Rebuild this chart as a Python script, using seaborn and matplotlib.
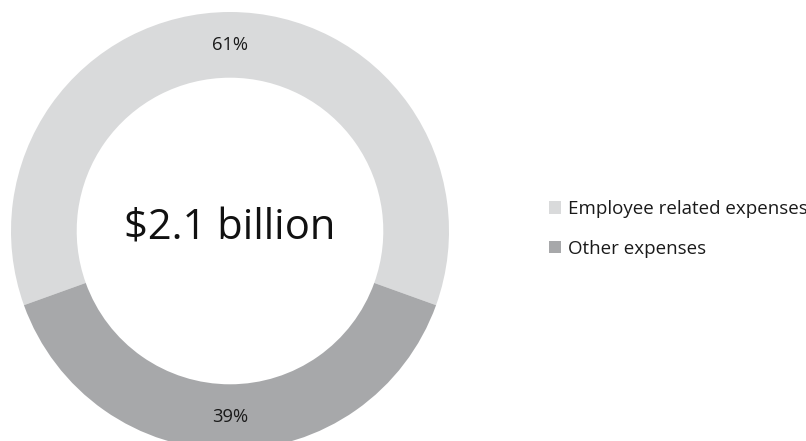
import matplotlib
matplotlib.use("Agg")
import matplotlib.pyplot as plt
from matplotlib.patches import Patch
import numpy as np
import seaborn as sns

# Expense breakdown (share of total, %)
categories = ["Employee related expenses", "Other expenses"]
shares = [61, 39]
total_label = "$2.1 billion"

sns.set_theme(style="white")
plt.rcParams["font.family"] = ["Open Sans", "DejaVu Sans"]

colors = sns.color_palette(["#D9DADB", "#A7A8AA"])

W, H = 806, 441
fig = plt.figure(figsize=(W / 100, H / 100), dpi=100)
fig.patch.set_facecolor("white")

# Donut centred at (230, 231) px with an outer radius of 219 px
cx, cy, r = 230, 231, 219
ax = fig.add_axes([(cx - r) / W, (H - cy - r) / H, 2 * r / W, 2 * r / H])

ring = 0.30
# Employee wedge centred on the top, other wedge centred on the bottom
start = 90 - shares[0] / 100 * 360 / 2
wedges, _ = ax.pie(
    shares,
    colors=colors,
    startangle=start,
    counterclock=True,
    radius=1.0,
    wedgeprops=dict(width=ring, edgecolor="none"),
)
ax.set_xlim(-1, 1)
ax.set_ylim(-1, 1)
ax.set_aspect("equal")
ax.axis("off")

# Percent labels placed at the middle of the ring
mid = 1.0 - ring / 2
for w, v in zip(wedges, shares):
    ang = np.deg2rad((w.theta1 + w.theta2) / 2)
    ax.text(mid * np.cos(ang), mid * np.sin(ang), f"{v}%",
            ha="center", va="center", fontsize=13.2, color="#1a1a1a")

ax.text(0, 0.01, total_label, ha="center", va="center",
        fontsize=30, color="#111111")

handles = [Patch(facecolor=c, edgecolor="none") for c in colors]
leg = fig.legend(
    handles, categories,
    loc="upper left",
    bbox_to_anchor=(549 / W, 1 - 200 / H),
    frameon=False,
    fontsize=13.5,
    handlelength=0.65,
    handleheight=0.65,
    handletextpad=0.35,
    labelspacing=1.15,
    borderaxespad=0,
    borderpad=0,
)
for t in leg.get_texts():
    t.set_color("#1a1a1a")

fig.savefig("out.png", dpi=100, facecolor="white")
